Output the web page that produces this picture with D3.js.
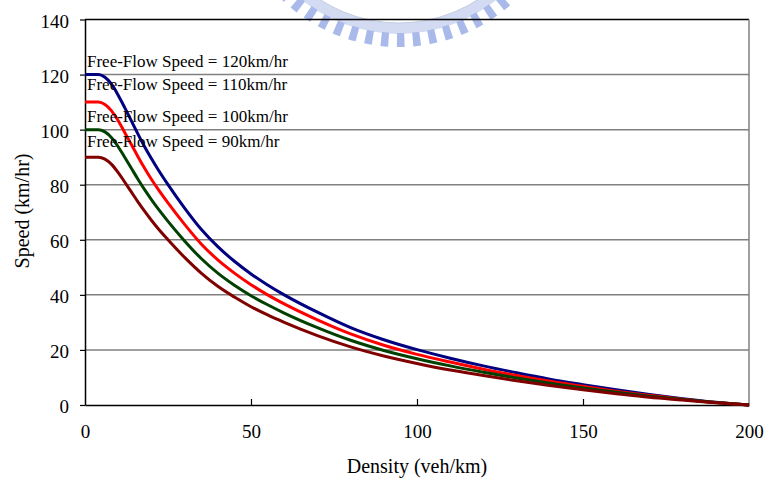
<!DOCTYPE html>
<html>
<head>
<meta charset="utf-8">
<script src="https://cdn.jsdelivr.net/npm/d3@7"></script>
<style>
  body { margin: 0; background: #fff; }
  svg { display: block; }
  svg text { font-family: "Liberation Serif", "Tinos", "DejaVu Serif", serif; }
</style>
</head>
<body>
<div id="chart"></div>
<script>
// densities (veh/km) shared by all curves
const density = [0, 2, 4, 6, 8, 10, 12, 14, 16, 18, 20, 22, 25, 30, 35, 40, 45, 50, 55, 60, 70, 80, 90, 100, 110, 120, 130, 140, 150, 160, 170, 180, 190, 200];

// speeds (km/hr)
const speed120 = [120, 120, 120, 119.0, 116.5, 112.5, 107.9, 103.1, 98.3, 93.7, 89.5, 85.5, 80.0, 71.5, 63.8, 57.5, 52.2, 47.6, 43.6, 40.0, 33.7, 28.1, 23.7, 20.1, 17.0, 14.2, 11.7, 9.4, 7.4, 5.5, 3.8, 2.3, 1.0, 0];
const speed110 = [110, 110, 110, 109.1, 106.8, 103.2, 98.9, 94.5, 90.1, 85.9, 82.0, 78.4, 73.4, 65.6, 58.5, 52.7, 47.9, 43.7, 40.0, 36.7, 30.9, 25.8, 21.7, 18.4, 15.6, 13.0, 10.7, 8.6, 6.8, 5.0, 3.5, 2.1, 0.9, 0];
const speed100 = [100, 100, 100, 99.2, 97.1, 93.8, 89.9, 85.9, 81.9, 78.1, 74.6, 71.3, 66.7, 59.6, 53.2, 47.9, 43.5, 39.7, 36.4, 33.4, 28.1, 23.5, 19.8, 16.8, 14.2, 11.9, 9.8, 7.9, 6.2, 4.6, 3.2, 2.0, 0.9, 0];
const speed90  = [90, 90, 90, 89.3, 87.4, 84.4, 80.9, 77.3, 73.7, 70.3, 67.1, 64.1, 60.0, 53.6, 47.9, 43.1, 39.2, 35.7, 32.7, 30.0, 25.2, 21.1, 17.8, 15.1, 12.7, 10.7, 8.8, 7.1, 5.5, 4.1, 2.8, 1.8, 0.8, 0];

const seriesNames = ["Free-Flow Speed = 120km/hr", "Free-Flow Speed = 110km/hr", "Free-Flow Speed = 100km/hr", "Free-Flow Speed = 90km/hr"];
const seriesColors = ["#000080", "#ff0000", "#004000", "#800000"];
const labelSpeeds = [125, 116.4, 105, 95.8]; // where each label sits on the speed axis

const xTicks = [0, 50, 100, 150, 200];
const yTicks = [0, 20, 40, 60, 80, 100, 120, 140];

const W = 766, H = 479;
const margin = { top: 19.5, left: 85, right: 17, bottom: 74 };

const svg = d3.select("#chart").append("svg")
  .attr("width", W)
  .attr("height", H);

// faint watermark seal at top
const mark = svg.append("g")
  .attr("transform", "translate(399,-122)")
  .attr("fill", "#a9b9ea");
mark.append("path")
  .attr("fill", "#d3dbf3")
  .attr("d", d3.arc()({ innerRadius: 145, outerRadius: 156, startAngle: Math.PI * 0.55, endAngle: Math.PI * 1.45 }));
d3.range(101, 260, 5.6).forEach(a => {
  const r = a * Math.PI / 180;
  mark.append("path")
    .attr("d", d3.arc()({ innerRadius: 155, outerRadius: 169, startAngle: r - 0.023, endAngle: r + 0.023 }));
});
mark.append("circle")
  .attr("r", 145)
  .attr("fill", "none")
  .attr("stroke", "#c4cce2")
  .attr("stroke-width", 1);

const x = d3.scaleLinear().domain([0, 200]).range([margin.left, W - margin.right]);
const y = d3.scaleLinear().domain([0, 140]).range([H - margin.bottom, margin.top]);

// horizontal gridlines
svg.append("g")
  .selectAll("line")
  .data(yTicks.filter(t => t > 0 && t < 140))
  .join("line")
    .attr("x1", x(0))
    .attr("x2", x(200))
    .attr("y1", d => y(d))
    .attr("y2", d => y(d))
    .attr("stroke", "#808080")
    .attr("stroke-width", 1.5);

// frame: top black, right gray
svg.append("line")
  .attr("x1", x(0)).attr("x2", x(200))
  .attr("y1", y(140)).attr("y2", y(140))
  .attr("stroke", "#000").attr("stroke-width", 1.5);
svg.append("line")
  .attr("x1", x(200)).attr("x2", x(200))
  .attr("y1", y(140)).attr("y2", y(0))
  .attr("stroke", "#808080").attr("stroke-width", 1.5);

// axes
const yAxis = svg.append("g")
  .attr("transform", "translate(" + x(0) + ",0)")
  .call(d3.axisLeft(y).tickValues(yTicks).tickSize(5).tickPadding(11).tickSizeOuter(0));
const xAxis = svg.append("g")
  .attr("transform", "translate(0," + y(0) + ")")
  .call(d3.axisBottom(x).tickValues(xTicks).tickSize(-6).tickPadding(20).tickSizeOuter(0));

[xAxis, yAxis].forEach(a => {
  a.attr("font-family", null);
  a.select(".domain").attr("stroke", "#000").attr("stroke-width", 1.5);
  a.selectAll(".tick line").attr("stroke", "#000").attr("stroke-width", 1.2);
  a.selectAll("text")
    .attr("fill", "#000")
    .style("font-size", "19px");
});
yAxis.selectAll("text").attr("dy", "0.42em");
xAxis.selectAll(".tick").filter(d => d === 0 || d === 200).select("line").remove();

// curves
const line = d3.line()
  .x(d => x(d[0]))
  .y(d => y(d[1]))
  .curve(d3.curveMonotoneX);

const series = [speed120, speed110, speed100, speed90];
svg.append("g")
  .selectAll("path")
  .data(series)
  .join("path")
    .attr("d", s => line(density.map((k, i) => [k, s[i]])))
    .attr("fill", "none")
    .attr("stroke", (s, i) => seriesColors[i])
    .attr("stroke-width", 3);

// curve labels
svg.append("g")
  .selectAll("text")
  .data(seriesNames)
  .join("text")
    .attr("x", x(0) + 2)
    .attr("y", (d, i) => y(labelSpeeds[i]))
    .attr("dy", "0.35em")
    .style("font-size", "17px")
    .attr("fill", "#000")
    .text(d => d);

// axis titles
svg.append("text")
  .attr("x", (x(0) + x(200)) / 2)
  .attr("y", 473)
  .attr("text-anchor", "middle")
  .style("font-size", "20px")
  .text("Density (veh/km)");

svg.append("text")
  .attr("transform", "translate(29," + 211 + ") rotate(-90)")
  .attr("text-anchor", "middle")
  .style("font-size", "20px")
  .text("Speed (km/hr)");
</script>
</body>
</html>
